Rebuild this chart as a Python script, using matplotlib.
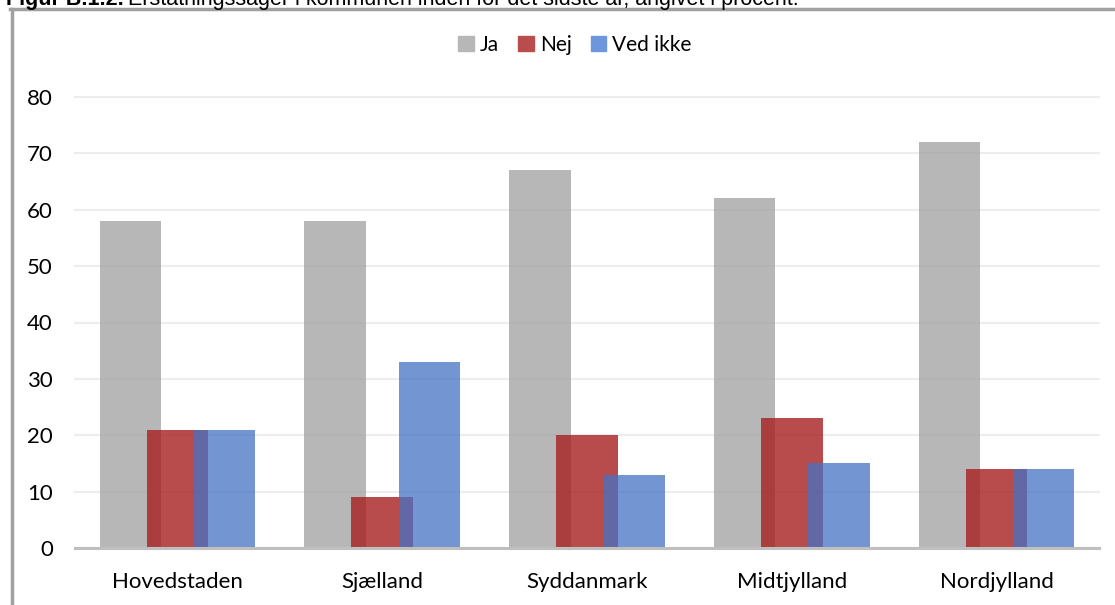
import matplotlib
matplotlib.use("Agg")
import matplotlib.pyplot as plt
import numpy as np
from matplotlib.lines import Line2D
from matplotlib.patches import Patch

categories = ["Hovedstaden", "Sjælland", "Syddanmark", "Midtjylland", "Nordjylland"]
ja = [58, 58, 67, 62, 72]
nej = [21, 9, 20, 23, 14]
ved_ikke = [21, 33, 13, 15, 14]
series_names = ["Ja", "Nej", "Ved ikke"]
yticks = [0, 10, 20, 30, 40, 50, 60, 70, 80]

W, H = 1115, 605
fig = plt.figure(figsize=(W / 100, H / 100), dpi=100)
fig.patch.set_facecolor("white")

plt.rcParams["font.family"] = ["Lato", "DejaVu Sans"]

ax = fig.add_axes([75 / W, 1 - 548 / H, (1099 - 75) / W, (548 - 97) / H])
x = np.arange(len(categories))
bw = 0.30
off = 0.23
ax.bar(x - off, ja, width=bw, color="#A5A5A5", alpha=0.8, zorder=2, linewidth=0)
ax.bar(x, nej, width=bw, color="#A71F1F", alpha=0.8, zorder=3, linewidth=0)
ax.bar(x + off, ved_ikke, width=bw, color="#4472C4", alpha=0.75, zorder=4, linewidth=0)

ax.set_xlim(-0.5, len(categories) - 0.5)
ax.set_ylim(0, 80)
ax.set_yticks(yticks)
ax.set_xticks(x)
ax.set_xticklabels(categories, fontsize=16, color="#000000")
ax.tick_params(axis="both", length=0, labelsize=16, colors="#000000")
ax.tick_params(axis="x", pad=17)
ax.tick_params(axis="y", pad=16)
ax.grid(axis="y", color="#EDEDED", linewidth=1.5, zorder=0)
for s in ["top", "right", "left"]:
    ax.spines[s].set_visible(False)
ax.spines["bottom"].set_color("#BFBFBF")
ax.spines["bottom"].set_linewidth(2.2)
ax.spines["bottom"].set_zorder(5)
for t in ax.get_yticklabels():
    t.set_clip_on(False)
for gl in ax.get_ygridlines():
    gl.set_clip_on(False)

handles = [Patch(color="#B7B7B7"), Patch(color="#B94C4C"), Patch(color="#6E96DC")]
fig.legend(handles, series_names, loc="center", bbox_to_anchor=(575 / W, 1 - 45 / H),
           ncol=3, frameon=False, fontsize=15, handlelength=0.75, handleheight=0.75,
           handletextpad=0.3, columnspacing=0.9)

# outer frame
fig.add_artist(Line2D([11.5 / W, 11.5 / W], [0, 1 - 9 / H], transform=fig.transFigure,
                      color="#A0A0A0", linewidth=2.5))
fig.add_artist(Line2D([10 / W, 1], [1 - 9 / H, 1 - 9 / H], transform=fig.transFigure,
                      color="#A0A0A0", linewidth=2.5))

title_font = ["Liberation Sans", "DejaVu Sans"]
tsize = 15.5
t1 = fig.text(6 / W, 1 - 5 / H, "Figur B.1.2.", fontsize=tsize, fontweight="bold",
              family=title_font, va="baseline", ha="left")
fig.canvas.draw()
bb = t1.get_window_extent()
fig.text((bb.x1 + 4) / W, 1 - 5 / H,
         "Erstatningssager i kommunen inden for det sidste år, angivet i procent.",
         fontsize=tsize, family=title_font, va="baseline", ha="left")

fig.savefig("out.png", dpi=100, facecolor="white")
